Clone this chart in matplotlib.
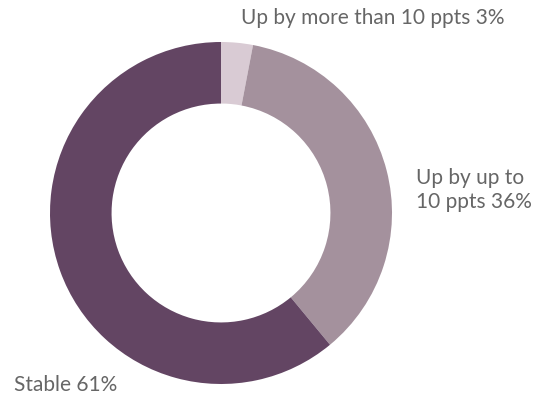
import matplotlib.pyplot as plt

labels = ['Up by more than 10 ppts 3%', 'Up by up to\n10 ppts 36%', 'Stable 61%']
shares = [3, 36, 61]
colors = ['#d9cbd4', '#a4919d', '#634563']

plt.rcParams['font.family'] = ['Lato', 'DejaVu Sans']

fig = plt.figure(figsize=(5.35, 3.99), dpi=100)
ax = fig.add_axes([50 / 535, 15 / 399, 342 / 535, 342 / 399])

ax.pie(shares, colors=colors, startangle=90, counterclock=False,
       radius=1.0, wedgeprops=dict(width=0.36, linewidth=0))
ax.set_xlim(-1, 1)
ax.set_ylim(-1, 1)
ax.set_aspect('equal')
ax.axis('off')

# label positions in data units around the ring
label_pos = [(0.117, 1.14), (1.14, 0.134), (-1.21, -1.006)]
for txt, (x, y) in zip(labels, label_pos):
    ax.text(x, y, txt, ha='left', va='center', fontsize=15,
            color='#666666', linespacing=1.25)

fig.savefig('out.png', dpi=100)
